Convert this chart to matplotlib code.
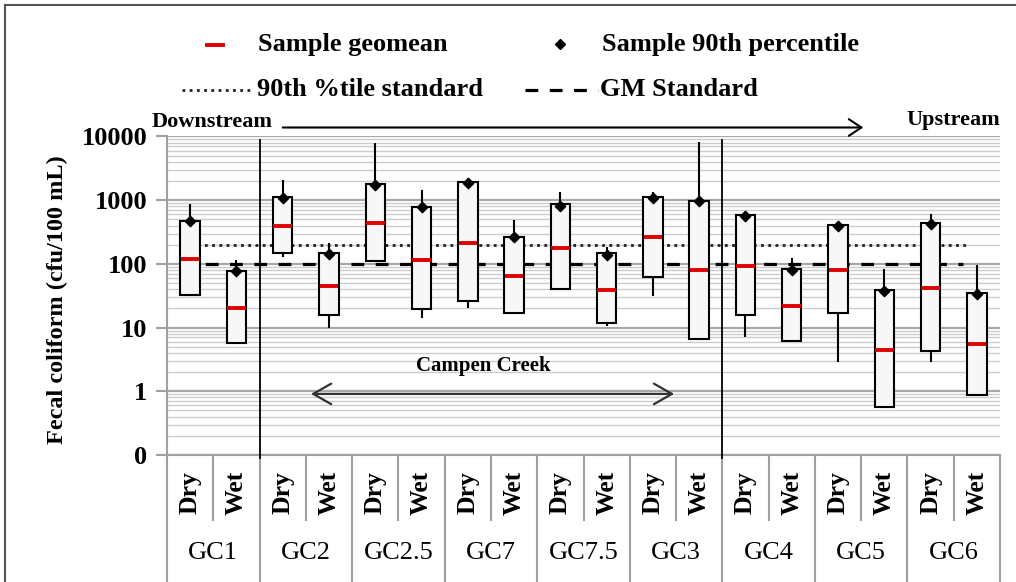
import matplotlib
matplotlib.use("Agg")
import matplotlib.pyplot as plt
from matplotlib.lines import Line2D
from matplotlib.patches import FancyArrowPatch
from matplotlib.transforms import Affine2D
import numpy as np

plt.rcParams['font.family'] = ['Liberation Serif', 'DejaVu Serif']

# categories
sites = ['GC1', 'GC2', 'GC2.5', 'GC7', 'GC7.5', 'GC3', 'GC4', 'GC5', 'GC6']
seasons = ['Dry', 'Wet']

# values (cfu/100 mL), order: site1 Dry, site1 Wet, ...
box_high = [478, 78, 1135, 150, 1775, 791, 1910, 267, 861, 150, 1135, 982, 586, 83, 408, 39, 444, 34.5]
box_low = [33, 5.8, 150, 15.8, 112, 19.6, 26.2, 17.1, 40, 11.7, 63, 6.6, 15.8, 6.2, 17.1, 0.57, 4.3, 0.86]
geomean = [118, 20.5, 398, 45.5, 434, 116, 210, 65, 180, 39, 261, 80, 94, 21.8, 80, 4.45, 42, 5.5]
p90 = [470, 76, 1100, 145, 1750, 780, 1850, 262, 800, 140, 1100, 960, 570, 80, 400, 38, 430, 34]
whisker_hi = [871, 115, 2075, 215, 7820, 1445, 2210, 489, 1360, 186, 1360, 8280, 620, 122, 440, 83, 601, 96]
whisker_lo = [np.nan, np.nan, 130, 10, np.nan, 14, 20, np.nan, 39, 10.5, 31.6, np.nan, 7, np.nan, 2.9, np.nan, 2.9, np.nan]

gm_standard = 100
p90_standard = 200

W, H = 1016, 582
fig = plt.figure(figsize=(W / 100, H / 100), dpi=100)
pix = Affine2D().scale(1 / W, -1 / H).translate(0, 1) + fig.transFigure

ax = fig.add_axes([167 / W, 1 - 455 / H, 833 / W, 318.5 / H])
x = np.arange(len(box_high))

ax.set_yscale('log')
ax.set_ylim(0.1, 10000)
ax.set_xlim(-0.5, len(x) - 0.5)

# grid
ax.yaxis.grid(True, which='major', color='#a8a8a8', lw=1.6)
ax.yaxis.grid(True, which='minor', color='#cccccc', lw=1.0)
ax.set_axisbelow(True)
for s in ['top', 'right']:
    ax.spines[s].set_visible(False)
for s in ['left', 'bottom']:
    ax.spines[s].set_color('#a0a0a0')
    ax.spines[s].set_linewidth(1.5)

ax.set_yticks([0.1, 1, 10, 100, 1000, 10000])
ax.set_yticklabels(['0', '1', '10', '100', '1000', '10000'], fontsize=19, fontweight='bold')
ax.tick_params(axis='y', which='major', length=8, color='#a0a0a0', width=1.5, pad=6)
ax.tick_params(axis='y', which='minor', length=0)
ax.set_xticks([])

# standards
ax.plot([-0.2, 16.7], [gm_standard, gm_standard], color='black', lw=2.3,
        linestyle=(0, (4, 3.6)), zorder=2)
ax.plot([0.0, 16.85], [p90_standard, p90_standard], color='#222222', lw=2.0,
        linestyle=(0, (1, 1.6)), zorder=2)

# whiskers, boxes, geomeans, 90th percentiles
ax.vlines(x, np.where(np.isnan(whisker_lo), box_low, whisker_lo), whisker_hi,
          color='black', lw=1.5, zorder=3)
ax.bar(x, np.array(box_high) - np.array(box_low), bottom=box_low, width=0.42,
       color='#f7f7f7', edgecolor='black', lw=1.5, zorder=4)
ax.hlines(geomean, x - 0.2, x + 0.2, color='#e00000', lw=2.8, zorder=5)
ax.scatter(x, p90, marker='D', s=28, color='black', zorder=6)

# segment separators
xt = ax.get_xaxis_transform()
for xs in [1.5, 11.5]:
    ax.add_line(Line2D([xs, xs], [-0.01, 0.99], transform=xt, color='black', lw=1.3,
                       clip_on=False, zorder=3))

# category labels below the axis
for i in range(len(x)):
    ax.text(i, -0.118, seasons[i % 2], transform=xt, rotation=90, ha='center',
            va='center', fontsize=18.5, fontweight='bold')
for j, site in enumerate(sites):
    ax.text(2 * j + 0.5, -0.308, site, transform=xt, ha='center', va='center', fontsize=19)
for k in range(len(x) + 1):
    xs = k - 0.5
    y_end = -0.40 if k % 2 == 0 else -0.205
    ax.add_line(Line2D([xs, xs], [0, y_end], transform=xt, color='#a0a0a0', lw=1.5,
                       clip_on=False))

# y label
fig.text(57, 300, 'Fecal coliform (cfu/100 mL)', transform=pix, rotation=90,
         ha='center', va='center', fontsize=17.5, fontweight='bold')

# Campen Creek annotation
ax.annotate('', xy=(2.55, 0.91), xytext=(10.52, 0.91),
            arrowprops=dict(arrowstyle='<->,head_length=0.65,head_width=0.37',
                            mutation_scale=20, color='#333333', lw=1.6))
ax.text(6.33, 2.5, 'Campen Creek', ha='center', va='center', fontsize=15, fontweight='bold')

# downstream / upstream
fig.text(152, 122, 'Downstream', transform=pix, ha='left', va='center', fontsize=16, fontweight='bold')
fig.text(1000, 120, 'Upstream', transform=pix, ha='right', va='center', fontsize=16, fontweight='bold')
fig.add_artist(FancyArrowPatch((280, 127.5), (866, 127.5), transform=pix,
                               arrowstyle='->,head_length=0.45,head_width=0.3',
                               mutation_scale=20, color='black', lw=1.5))

# legend
fig.add_artist(Line2D([207, 223], [45, 45], transform=pix, color='#e00000', lw=2.8))
fig.text(258, 45, 'Sample geomean', transform=pix, ha='left', va='center', fontsize=19, fontweight='bold')
fig.add_artist(Line2D([560], [44], transform=pix, marker='D', markersize=5, color='black', lw=0))
fig.text(602, 45, 'Sample 90th percentile', transform=pix, ha='left', va='center', fontsize=19, fontweight='bold')
fig.add_artist(Line2D([182, 250], [90, 90], transform=pix, color='#222222', lw=2.0, linestyle=(0, (1, 1.6))))
fig.text(257, 90, '90th %tile standard', transform=pix, ha='left', va='center', fontsize=19, fontweight='bold')
fig.add_artist(Line2D([525, 598], [90, 90], transform=pix, color='black', lw=2.3, linestyle=(0, (4, 3.6))))
fig.text(600, 90, 'GM Standard', transform=pix, ha='left', va='center', fontsize=19, fontweight='bold')

# outer frame
fig.add_artist(Line2D([5, W], [5, 5], transform=pix, color='#555555', lw=1.5))
fig.add_artist(Line2D([5, 5], [5, H], transform=pix, color='#555555', lw=1.5))

fig.savefig('out.png', dpi=100)
